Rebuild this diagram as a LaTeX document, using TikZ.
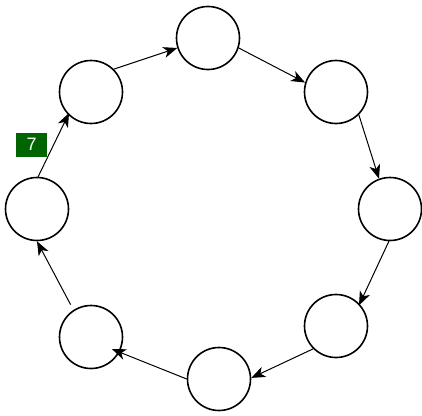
\documentclass[tikz,border=0pt]{standalone}
\usepackage{fontspec}
\setmainfont{Liberation Sans}
\definecolor{labelgreen}{RGB}{0, 100, 0}
\usetikzlibrary{arrows.meta}

\begin{document}
\begin{tikzpicture}[x=1pt, y=-1pt,
        ringnode/.style={draw, circle, line width=1.6pt, minimum size=63pt, inner sep=0pt},
        ringedge/.style={-{Stealth[length=14pt, width=11pt, inset=4pt]}, line width=1pt},
        steplabel/.style={fill=labelgreen, text=white, font=\fontsize{18}{18}\selectfont,
                          minimum width=31pt, minimum height=24pt, inner sep=0pt}]
            \useasboundingbox (0,0) rectangle (422,415);
            % ring of nodes
            \node[ringnode] (top)   at (208,38)  {};
            \node[ringnode] (upr)   at (336,92)  {};
            \node[ringnode] (right) at (390,209) {};
            \node[ringnode] (lowr)  at (336,326) {};
            \node[ringnode] (bot)   at (219,379) {};
            \node[ringnode] (lowl)  at (91,337)  {};
            \node[ringnode] (left)  at (37,209)  {};
            \node[ringnode] (upl)   at (91,92)   {};
            % connectors
            \draw[ringedge] (upl.45)    -- (top.198);
            \draw[ringedge] (top.-18)   -- (upr.163);
            \draw[ringedge] (upr.-45)   -- (right.110);
            \draw[ringedge, shorten >=-1.5pt] (right.-92) -- (lowr.43);
            \draw[ringedge] (lowr.225)  -- (bot.2);
            \draw[ringedge, shorten >=-8pt] (bot.180) -- (lowl.-28);
            \draw[ringedge, shorten <=6pt] (lowl.123) -- (left.-90);
            \draw[ringedge, shorten >=-2pt] (left.88) -- node[steplabel, pos=0.52, left=6pt] (lbl7) {7} (upl.225);
        \end{tikzpicture}
\end{document}
